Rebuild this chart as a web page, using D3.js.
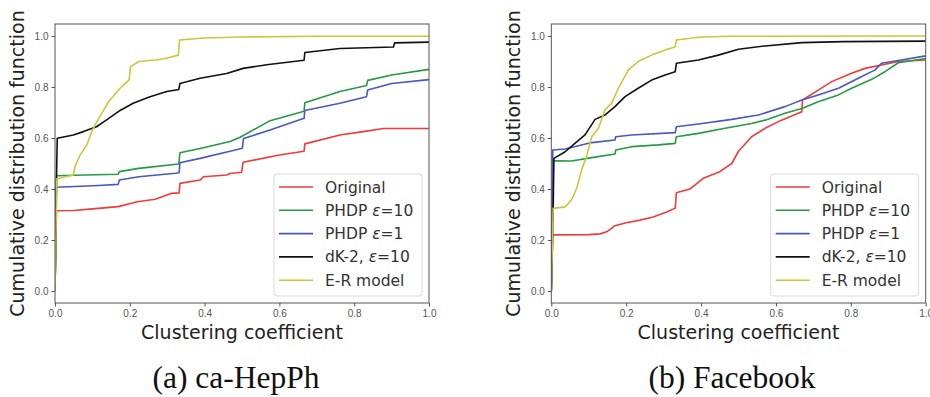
<!DOCTYPE html>
<html>
<head>
<meta charset="utf-8">
<script src="https://cdn.jsdelivr.net/npm/d3@7"></script>
<style>
  body { margin: 0; background: #fff; }
  svg { display: block; font-family: "DejaVu Sans", sans-serif; }
  .tick text { fill: #555; font-size: 10px; }
  .axis-title { fill: #222; font-size: 19px; }
  .caption { fill: #111; font-family: "Liberation Serif", serif; font-size: 31.5px; }
  .legend text { fill: #333; font-size: 15.5px; }
</style>
</head>
<body>
<svg id="chart" width="930" height="397"></svg>
<script>
// series names and colours (matplotlib r, g, b, k, y — softened as in the scan)
const seriesNames = ["Original", "PHDP ε=10", "PHDP ε=1", "dK-2, ε=10", "E-R model"];
const seriesColors = ["#f23a3a", "#249a42", "#4658c6", "#111111", "#c9c83a"];
const xTicks = [0, 0.2, 0.4, 0.6, 0.8, 1.0];
const yTicks = [0, 0.2, 0.4, 0.6, 0.8, 1.0];

// (a) ca-HepPh — [clustering coefficient, CDF]
const hepOriginal = [[0,0],[0.004,0.315],[0.05,0.316],[0.1,0.322],[0.169,0.331],[0.22,0.35],[0.268,0.36],[0.312,0.383],[0.332,0.385],[0.334,0.422],[0.388,0.435],[0.397,0.448],[0.459,0.455],[0.468,0.461],[0.499,0.466],[0.503,0.505],[0.6,0.533],[0.666,0.548],[0.668,0.577],[0.762,0.612],[0.824,0.625],[0.878,0.637],[1.0,0.637]];
const hepPhdp10 = [[0,0],[0.004,0.452],[0.05,0.454],[0.169,0.458],[0.172,0.468],[0.224,0.481],[0.331,0.498],[0.334,0.542],[0.388,0.559],[0.468,0.586],[0.495,0.603],[0.575,0.668],[0.666,0.705],[0.668,0.738],[0.762,0.782],[0.833,0.806],[0.836,0.826],[0.9,0.847],[1.0,0.869]];
const hepPhdp1 = [[0,0],[0.004,0.407],[0.117,0.414],[0.169,0.418],[0.172,0.435],[0.224,0.448],[0.322,0.462],[0.332,0.464],[0.334,0.503],[0.388,0.52],[0.468,0.548],[0.501,0.56],[0.504,0.598],[0.575,0.631],[0.666,0.677],[0.668,0.708],[0.762,0.736],[0.833,0.762],[0.836,0.788],[0.9,0.814],[1.0,0.829]];
const hepDk2 = [[0,0],[0.004,0.45],[0.006,0.599],[0.049,0.612],[0.076,0.625],[0.111,0.644],[0.138,0.671],[0.174,0.708],[0.209,0.736],[0.254,0.762],[0.299,0.782],[0.331,0.79],[0.334,0.814],[0.388,0.834],[0.459,0.853],[0.503,0.873],[0.566,0.887],[0.666,0.905],[0.668,0.935],[0.762,0.951],[0.905,0.957],[0.908,0.973],[1.0,0.976]];
const hepEr = [[0,0],[0.005,0.44],[0.049,0.455],[0.054,0.49],[0.067,0.533],[0.085,0.573],[0.1,0.631],[0.112,0.664],[0.143,0.742],[0.174,0.795],[0.198,0.827],[0.202,0.88],[0.224,0.9],[0.268,0.906],[0.295,0.912],[0.33,0.925],[0.333,0.984],[0.4,0.992],[0.5,0.996],[0.7,0.999],[1.0,0.999]];

// (b) Facebook — [clustering coefficient, CDF]
const fbOriginal = [[0,0],[0.004,0.22],[0.1,0.221],[0.13,0.224],[0.148,0.232],[0.17,0.256],[0.2,0.268],[0.237,0.278],[0.272,0.29],[0.308,0.31],[0.331,0.325],[0.334,0.385],[0.37,0.4],[0.406,0.442],[0.45,0.468],[0.482,0.5],[0.5,0.548],[0.535,0.605],[0.571,0.638],[0.615,0.67],[0.669,0.703],[0.671,0.749],[0.713,0.788],[0.749,0.821],[0.802,0.854],[0.838,0.873],[0.882,0.886],[0.927,0.9],[1.0,0.906]];
const fbPhdp10 = [[0,0],[0.004,0.511],[0.054,0.51],[0.108,0.523],[0.17,0.537],[0.172,0.553],[0.215,0.566],[0.286,0.573],[0.331,0.579],[0.334,0.605],[0.393,0.618],[0.464,0.638],[0.535,0.657],[0.571,0.67],[0.624,0.697],[0.669,0.716],[0.713,0.742],[0.767,0.769],[0.802,0.795],[0.856,0.83],[0.891,0.86],[0.927,0.895],[1.0,0.912]];
const fbPhdp1 = [[0,0],[0.004,0.553],[0.037,0.557],[0.108,0.582],[0.17,0.592],[0.172,0.605],[0.215,0.612],[0.331,0.621],[0.334,0.644],[0.393,0.655],[0.482,0.673],[0.553,0.69],[0.624,0.723],[0.669,0.749],[0.713,0.769],[0.767,0.795],[0.82,0.834],[0.865,0.867],[0.882,0.893],[0.927,0.904],[1.0,0.922]];
const fbDk2 = [[0,0],[0.005,0.32],[0.007,0.52],[0.037,0.546],[0.063,0.579],[0.09,0.612],[0.117,0.673],[0.143,0.69],[0.17,0.723],[0.197,0.762],[0.232,0.795],[0.268,0.827],[0.304,0.847],[0.331,0.86],[0.334,0.893],[0.393,0.906],[0.446,0.925],[0.5,0.948],[0.571,0.961],[0.669,0.974],[0.78,0.978],[1.0,0.98]];
const fbEr = [[0,0],[0.005,0.324],[0.037,0.33],[0.054,0.357],[0.068,0.403],[0.081,0.475],[0.094,0.527],[0.108,0.605],[0.126,0.638],[0.143,0.71],[0.161,0.736],[0.179,0.795],[0.206,0.867],[0.232,0.9],[0.268,0.925],[0.304,0.945],[0.331,0.958],[0.334,0.984],[0.393,0.995],[0.47,0.999],[1.0,1.0]];

const panels = [
  { caption: "(a) ca-HepPh", left: 55, right: 429, capX: 236, series: [hepOriginal, hepPhdp10, hepPhdp1, hepDk2, hepEr] },
  { caption: "(b) Facebook", left: 551.3, right: 925.7, capX: 732, series: [fbOriginal, fbPhdp10, fbPhdp1, fbDk2, fbEr] }
];
const plotTop = 24, plotBottom = 303;

const svg = d3.select("#chart");

panels.forEach((p, pi) => {
  const x = d3.scaleLinear().domain([0, 1.0]).range([p.left, p.right]);
  // y: 0 at 291, 1 at 36 → frame spans -0.047..1.047
  const y = d3.scaleLinear().domain([-0.047, 1.047]).range([plotBottom, plotTop]);
  const g = svg.append("g");

  const clipId = "clip" + pi;
  g.append("clipPath").attr("id", clipId)
    .append("rect").attr("x", p.left).attr("y", plotTop)
    .attr("width", p.right - p.left).attr("height", plotBottom - plotTop);

  const line = d3.line().x(d => x(d[0])).y(d => y(d[1]));
  p.series.forEach((s, i) => {
    g.append("path")
      .attr("d", line(s))
      .attr("fill", "none")
      .attr("stroke", seriesColors[i])
      .attr("stroke-width", 1.6)
      .attr("stroke-linejoin", "round")
      .attr("clip-path", `url(#${clipId})`);
  });

  // axes
  const xAxis = g.append("g").attr("transform", `translate(0,${plotBottom})`)
    .call(d3.axisBottom(x).tickValues(xTicks).tickFormat(d3.format(".1f")).tickSize(3.5).tickPadding(3));
  const yAxis = g.append("g").attr("transform", `translate(${p.left},0)`)
    .call(d3.axisLeft(y).tickValues(yTicks).tickFormat(d3.format(".1f")).tickSize(3.5).tickPadding(3));
  [xAxis, yAxis].forEach(a => {
    a.select(".domain").remove();
    a.selectAll(".tick line").attr("stroke", "#555");
  });

  // frame
  g.append("rect")
    .attr("x", p.left).attr("y", plotTop)
    .attr("width", p.right - p.left).attr("height", plotBottom - plotTop)
    .attr("fill", "none").attr("stroke", "#555").attr("stroke-width", 1);

  // titles
  const cx = (p.left + p.right) / 2;
  g.append("text").attr("class", "axis-title")
    .attr("x", cx).attr("y", 339).attr("text-anchor", "middle")
    .text("Clustering coefficient");
  g.append("text").attr("class", "axis-title")
    .attr("transform", `translate(${p.left - 31},${(plotTop + plotBottom) / 2}) rotate(-90)`)
    .attr("text-anchor", "middle")
    .text("Cumulative distribution function");
  g.append("text").attr("class", "caption")
    .attr("x", p.capX).attr("y", 388).attr("text-anchor", "middle")
    .text(p.caption);

  // legend
  const lx = p.right - 155, ly = 174;
  const leg = g.append("g").attr("class", "legend");
  leg.append("rect")
    .attr("x", lx).attr("y", ly).attr("width", 148).attr("height", 122)
    .attr("rx", 3).attr("fill", "#fff").attr("fill-opacity", 0.85)
    .attr("stroke", "#dcdcdc").attr("stroke-width", 1);
  seriesNames.forEach((name, i) => {
    const ry = ly + 13 + i * 23.3;
    leg.append("line")
      .attr("x1", lx + 5).attr("x2", lx + 39)
      .attr("y1", ry).attr("y2", ry)
      .attr("stroke", seriesColors[i]).attr("stroke-width", 1.6);
    const t = leg.append("text").attr("x", lx + 51).attr("y", ry + 5.5);
    name.split(/(ε)/).forEach(part => {
      if (!part) return;
      const ts = t.append("tspan").text(part);
      if (part === "ε") ts.attr("font-style", "italic");
    });
  });
});
</script>
</body>
</html>
